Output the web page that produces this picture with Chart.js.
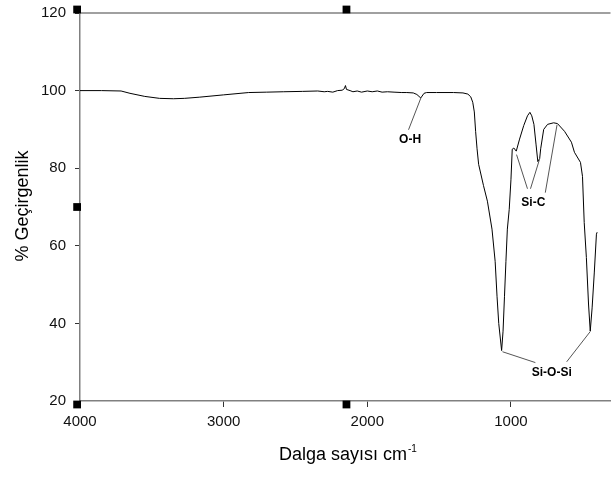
<!DOCTYPE html>
<html>
<head>
<meta charset="utf-8">
<script src="https://cdn.jsdelivr.net/npm/chart.js@4.4.1/dist/chart.umd.min.js"></script>
<style>
html, body { margin: 0; padding: 0; background: #fff; }
#wrap { width: 616px; height: 477px; position: relative; }
</style>
</head>
<body>
<div id="wrap"><canvas id="ftir"></canvas></div>
<script>
// FTIR spectrum, values
const wavenumbers = [4000, 3850, 3714, 3652, 3549, 3446, 3350, 3274, 3170, 3000,
  2826, 2700, 2585, 2450, 2345, 2300, 2276, 2240, 2207, 2175,
  2160, 2152, 2145, 2120, 2100, 2070, 2040, 2000, 1966, 1930,
  1897, 1860, 1814, 1760, 1725, 1680, 1655, 1628, 1605, 1587, 1518,
  1400, 1334, 1300, 1280, 1266, 1255, 1246, 1236, 1225, 1191,
  1164, 1132, 1110, 1097, 1085, 1065, 1055, 1045, 1035, 1025,
  1012, 1000, 991, 980, 963, 940, 911, 885, 868, 855,
  840, 825, 813, 800, 793, 772, 745, 703, 676, 627,
  579, 558, 516, 502, 490, 475, 460, 448, 435, 420, 405, 400];
const transmittance = [100.0, 100.0, 99.9, 99.3, 98.5, 98.0, 97.9, 98.0, 98.3, 98.9,
  99.5, 99.6, 99.7, 99.8, 99.9, 99.7, 99.8, 99.6, 100.0, 100.1,
  100.5, 101.3, 100.3, 100.0, 99.7, 99.9, 99.6, 99.9, 99.7, 99.9,
  99.6, 99.7, 99.6, 99.5, 99.5, 99.4, 99.0, 98.1, 99.3, 99.5, 99.5,
  99.5, 99.4, 99.1, 98.4, 97.0, 94.5, 89.5, 85.0, 81.0, 75.5,
  71.5, 64.3, 56.0, 47.0, 40.0, 33.0, 38.0, 47.0, 56.0, 64.3,
  69.4, 77.0, 84.9, 85.2, 84.4, 87.5, 91.0, 93.5, 94.4, 93.5,
  91.3, 86.0, 81.7, 82.5, 85.0, 90.0, 91.3, 91.7, 91.5, 89.5,
  86.7, 84.1, 81.5, 77.9, 66.0, 57.0, 45.0, 38.0, 44.0, 53.0, 63.0, 63.5];

const xTicks = [4000, 3000, 2000, 1000];
const yTicks = [20, 40, 60, 80, 100, 120];

// black selection handles around the graph
const handleX = [4020, 2145, 4020, 4020, 2145];
const handleY = [120.9, 120.9, 70, 19.1, 19.1];

// peak labels and their leader lines
const peakLabels = ['O-H', 'Si-C', 'Si-O-Si'];
const labelX = [1702, 844, 716];
const labelY = [87.4, 71.2, 27.4];
const leaderLines = [
  [1713, 89.9, 1627, 98.1],
  [961, 83.5, 885, 74.7],
  [864, 74.7, 802, 82.2],
  [761, 73.7, 679, 91.2],
  [1059, 32.7, 830, 29.9],
  [612, 30.1, 448, 37.9]
];

const extras = {
  id: 'extras',
  beforeDatasetsDraw(chart) {
    const { ctx, chartArea } = chart;
    ctx.save();
    ctx.strokeStyle = '#808080';
    ctx.lineWidth = 1.5;
    ctx.beginPath();
    ctx.moveTo(chartArea.left, chartArea.top);
    ctx.lineTo(chartArea.right, chartArea.top);
    ctx.stroke();
    ctx.restore();
  },
  afterDatasetsDraw(chart) {
    const { ctx, scales: { x, y } } = chart;
    ctx.save();
    ctx.strokeStyle = '#555';
    ctx.lineWidth = 1;
    leaderLines.forEach(l => {
      ctx.beginPath();
      ctx.moveTo(x.getPixelForValue(l[0]), y.getPixelForValue(l[1]));
      ctx.lineTo(x.getPixelForValue(l[2]), y.getPixelForValue(l[3]));
      ctx.stroke();
    });
    ctx.fillStyle = '#000';
    ctx.font = 'bold 12px Arial';
    ctx.textAlign = 'center';
    ctx.textBaseline = 'middle';
    peakLabels.forEach((t, i) => {
      ctx.fillText(t, x.getPixelForValue(labelX[i]), y.getPixelForValue(labelY[i]));
    });

    // axis titles
    ctx.font = '18px Arial';
    ctx.textBaseline = 'alphabetic';
    ctx.textAlign = 'left';
    const main = 'Dalga sayısı cm';
    const w = ctx.measureText(main).width;
    const x0 = 279;
    ctx.fillText(main, x0, 460);
    ctx.font = '10px Arial';
    ctx.fillText('-1', x0 + w + 1, 452);

    ctx.font = '18px Arial';
    ctx.translate(23, 206);
    ctx.rotate(-Math.PI / 2);
    ctx.textAlign = 'center';
    ctx.textBaseline = 'middle';
    ctx.fillText('% Geçirgenlik', 0, 0);
    ctx.restore();
  }
};

new Chart(document.getElementById('ftir'), {
  type: 'line',
  data: {
    datasets: [{
      label: 'spectrum',
      data: wavenumbers.map((v, i) => ({ x: v, y: transmittance[i] })),
      borderColor: '#000',
      borderWidth: 1,
      pointRadius: 0,
      tension: 0,
      fill: false
    }, {
      label: 'handles',
      type: 'scatter',
      data: handleX.map((v, i) => ({ x: v, y: handleY[i] })),
      pointStyle: 'rect',
      pointRadius: 5.5,
      backgroundColor: '#000',
      borderColor: '#000',
      borderWidth: 0,
      clip: false
    }]
  },
  options: {
    responsive: true,
    maintainAspectRatio: false,
    animation: false,
    layout: { padding: { top: 13, right: 0, left: 0, bottom: 0 } },
    plugins: {
      legend: { display: false },
      tooltip: { enabled: false }
    },
    scales: {
      x: {
        type: 'linear',
        reverse: true,
        min: 307,
        max: 4000,
        afterBuildTicks: s => { s.ticks = xTicks.map(v => ({ value: v })); },
        afterFit: s => { s.height = 76; },
        grid: { drawOnChartArea: false, tickLength: 6, color: '#333' },
        border: { color: '#808080', width: 1.5 },
        ticks: { color: '#111', font: { family: 'Arial', size: 15 }, padding: 6, maxRotation: 0, callback: v => String(v) }
      },
      y: {
        min: 20,
        max: 120,
        afterBuildTicks: s => { s.ticks = yTicks.map(v => ({ value: v })); },
        afterFit: s => { s.width = 80; s.paddingTop = 0; s.paddingBottom = 0; },
        grid: { drawOnChartArea: false, tickLength: 5, color: '#333' },
        border: { color: '#808080', width: 1.5 },
        ticks: { color: '#111', font: { family: 'Arial', size: 15 }, padding: 9, callback: v => String(v) }
      }
    }
  },
  plugins: [extras]
});
</script>
</body>
</html>
